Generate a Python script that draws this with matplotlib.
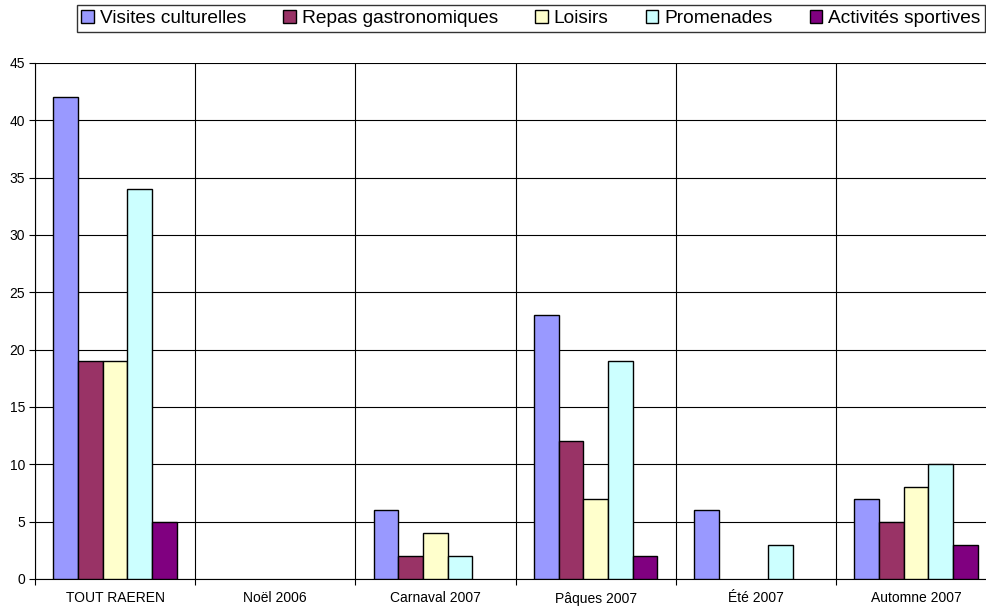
import numpy as np
import matplotlib
matplotlib.use("Agg")
import matplotlib.pyplot as plt

plt.rcParams['font.family'] = ['Liberation Sans', 'DejaVu Sans']

# Data
categories = ['TOUT RAEREN', 'Noël 2006', 'Carnaval 2007', 'Pâques 2007', 'Été 2007', 'Automne 2007']
series_names = ['Visites culturelles', 'Repas gastronomiques', 'Loisirs', 'Promenades', 'Activités sportives']
visites = [42, 0, 6, 23, 6, 7]
repas = [19, 0, 2, 12, 0, 5]
loisirs = [19, 0, 4, 7, 0, 8]
promenades = [34, 0, 2, 19, 3, 10]
sportives = [5, 0, 0, 2, 0, 3]
series_values = [visites, repas, loisirs, promenades, sportives]
colors = ['#9999FF', '#993366', '#FFFFCC', '#CCFFFF', '#800080']

fig = plt.figure(figsize=(9.86, 6.10), dpi=100)
ax = fig.add_axes([35 / 986, 1 - 579 / 610, 961 / 986, (579 - 63) / 610])

x = np.arange(len(categories))
bar_w = 0.154
for i, (name, vals, col) in enumerate(zip(series_names, series_values, colors)):
    offs = (i - 2) * bar_w
    bars = ax.bar(x + offs, vals, width=bar_w, color=col, edgecolor='black',
                  linewidth=1.0, label=name, zorder=3)
    # empty values are not drawn at all
    for b, v in zip(bars, vals):
        if v == 0:
            b.set_visible(False)

ax.set_xlim(-0.5, len(categories) - 0.5)
ax.set_ylim(0, 45)
ax.set_yticks(range(0, 46, 5))
ax.yaxis.grid(True, color='black', linewidth=0.8, zorder=0)

# category separators
ax.set_xticks(np.arange(-0.5, len(categories), 1.0))
ax.set_xticklabels([])
ax.set_xticks(x, minor=True)
ax.set_xticklabels(categories, minor=True)
ax.xaxis.grid(True, which='major', color='black', linewidth=0.8, zorder=0)
ax.tick_params(axis='x', which='minor', length=0, pad=9, labelsize=10)
ax.tick_params(axis='x', which='major', direction='out', length=4)
ax.tick_params(axis='y', direction='out', length=4, labelsize=10, pad=3)

for side in ['top', 'right']:
    ax.spines[side].set_visible(False)
ax.spines['left'].set_color('black')
ax.spines['bottom'].set_color('black')

leg = fig.legend(loc='upper right', bbox_to_anchor=(985 / 986, 1 - 5 / 610), ncol=5,
                 frameon=True, fancybox=False, edgecolor='black', fontsize=13.8,
                 handlelength=0.65, handleheight=0.65, handletextpad=0.3,
                 columnspacing=1.95, borderpad=0.25, borderaxespad=0)
leg.get_frame().set_linewidth(1.0)

plt.savefig('out.png', dpi=100)
